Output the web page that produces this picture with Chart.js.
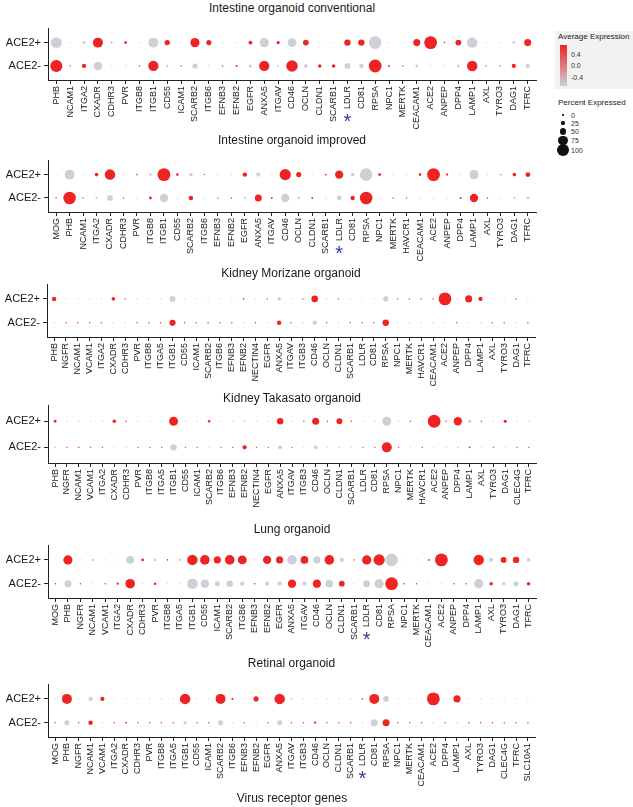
<!DOCTYPE html>
<html>
<head>
<meta charset="utf-8">
<script src="https://cdn.jsdelivr.net/npm/chart.js@4.4.1/dist/chart.umd.min.js"></script>
<style>
  body { margin: 0; background: #fff; font-family: "Liberation Sans", Arial, sans-serif; color: #1a1a1a; }
  #page { position: relative; width: 633px; height: 807px; overflow: hidden; }
  canvas { position: absolute; left: 0; }
  .ptitle { position: absolute; left: 48px; width: 488px; text-align: center; font-size: 12px; line-height: 14px; }
  .leg { position: absolute; font-size: 7px; line-height: 9px; color: #333; white-space: nowrap; }
  .legt { position: absolute; font-size: 8px; line-height: 10px; color: #1a1a1a; white-space: nowrap; }
</style>
</head>
<body>
<div id="page"></div>
<script>
// z-scored average expression of the ACE2+ group (ACE2- is the negative)
const H = 0.71, L = -0.71;
const rowLabels = ["ACE2+", "ACE2-"];

// Intestine organoid conventional
const genes1 = ["PHB","NCAM1","ITGA2","CXADR","CDHR3","PVR","ITGB8","ITGB1","CD55","ICAM1","SCARB2","ITGB6","EFNB3","EFNB2","EGFR","ANXA5","ITGAV","CD46","OCLN","CLDN1","SCARB1","LDLR","CD81","RPSA","NPC1","MERTK","CEACAM1","ACE2","ANPEP","DPP4","LAMP1","AXL","TYRO3","DAG1","TFRC"];
const pctPos1 = [85,1,25,78,10,22,1,78,42,1,72,40,1,2,30,72,25,70,45,3,10,50,50,98,10,1,55,100,12,45,82,1,3,22,55];
const pctNeg1 = [95,3,33,68,3,3,12,80,20,4,40,8,3,15,25,80,15,90,30,28,28,45,35,100,15,7,22,1,3,22,82,4,8,33,33];
const expPos1 = [L,L,L,H,H,H,L,L,H,L,H,H,L,L,H,L,H,L,H,L,L,H,H,L,L,L,H,H,H,H,L,L,L,L,H];

// Intestine organoid improved
const genes2 = ["MOG","PHB","NCAM1","ITGA2","CXADR","CDHR3","PVR","ITGB8","ITGB1","CD55","SCARB2","ITGB6","EFNB3","EFNB2","EGFR","ANXA5","ITGAV","CD46","OCLN","CLDN1","SCARB1","LDLR","CD81","RPSA","NPC1","MERTK","HAVCR1","CEACAM1","ACE2","ANPEP","DPP4","LAMP1","AXL","TYRO3","DAG1","TFRC"];
const pctPos2 = [0,78,1,28,82,2,12,22,100,20,28,10,1,4,35,33,4,88,40,5,14,65,28,98,22,1,1,20,100,18,3,72,1,10,28,38];
const pctNeg2 = [3,98,3,18,45,6,4,22,65,6,35,3,3,10,18,55,14,65,22,14,6,38,35,98,4,4,4,4,1,2,16,65,4,3,18,22];
const expPos2 = [L,L,L,H,H,L,H,L,H,H,L,H,L,L,H,L,L,H,H,L,H,H,L,L,H,L,L,H,H,H,L,L,L,H,H,H];

// Kidney Morizane organoid
const genes3 = ["PHB","NGFR","NCAM1","VCAM1","ITGA2","CXADR","CDHR3","PVR","ITGB8","ITGA5","ITGB1","CD55","ICAM1","SCARB2","ITGB6","EFNB3","EFNB2","NECTIN4","EGFR","ANXA5","ITGAV","ITGB3","CD46","OCLN","CLDN1","SCARB1","LDLR","CD81","RPSA","NPC1","MERTK","HAVCR1","CEACAM1","ACE2","ANPEP","DPP4","LAMP1","AXL","TYRO3","DAG1","TFRC"];
const pctPos3 = [35,1,3,2,2,28,4,2,2,2,45,1,1,8,1,1,12,1,10,28,1,6,52,2,10,2,2,3,40,4,6,4,4,100,3,55,33,2,2,6,2];
const pctNeg3 = [8,3,10,3,3,3,2,4,8,4,48,4,4,12,3,3,3,3,3,35,5,2,33,3,4,4,4,6,50,2,3,3,2,0,2,4,8,4,6,3,5];
const expPos3 = [H,L,L,L,L,H,H,L,L,L,L,L,L,L,L,L,H,L,H,L,L,H,H,L,H,L,L,L,L,H,H,H,H,H,L,H,H,L,L,H,L];

// Kidney Takasato organoid
const genes4 = ["PHB","NGFR","NCAM1","VCAM1","ITGA2","CXADR","CDHR3","PVR","ITGB8","ITGA5","ITGB1","CD55","ICAM1","SCARB2","ITGB6","EFNB3","EFNB2","NECTIN4","EGFR","ANXA5","ITGAV","ITGB3","CD46","OCLN","CLDN1","SCARB1","LDLR","CD81","RPSA","NPC1","MERTK","HAVCR1","ACE2","ANPEP","DPP4","LAMP1","AXL","TYRO3","DAG1","CLEC4G","TFRC"];
const pctPos4 = [22,1,3,2,2,28,5,2,2,2,70,1,2,20,1,1,14,1,1,50,3,6,55,4,45,7,1,3,70,2,6,2,100,6,65,25,6,2,25,1,3];
const pctNeg4 = [14,3,12,2,8,6,3,2,6,4,50,3,3,6,3,6,33,3,4,30,6,2,30,2,15,2,5,7,78,2,2,3,0,2,14,14,2,4,3,3,6];
const expPos4 = [H,L,L,L,L,H,H,L,L,L,H,L,L,H,L,L,L,L,L,H,L,H,H,H,H,H,L,L,L,L,H,L,H,H,H,L,H,L,H,L,L];

// Lung organoid
const genes5 = ["MOG","PHB","NGFR","NCAM1","VCAM1","ITGA2","CXADR","CDHR3","PVR","ITGB8","ITGA5","ITGB1","CD55","ICAM1","SCARB2","ITGB6","EFNB3","EFNB2","EGFR","ANXA5","ITGAV","CD46","OCLN","CLDN1","SCARB1","LDLR","CD81","RPSA","NPC1","MERTK","CEACAM1","ACE2","ANPEP","DPP4","LAMP1","AXL","TYRO3","DAG1","TFRC"];
const pctPos5 = [0,72,1,10,1,10,60,22,20,12,6,82,75,55,75,70,12,65,55,75,60,55,75,33,8,72,88,98,8,4,14,100,1,4,82,33,45,50,28];
const pctNeg5 = [3,55,3,2,3,18,75,3,20,3,1,82,65,40,50,33,12,33,33,65,33,65,60,45,3,55,72,100,12,8,4,1,3,8,72,28,28,40,28];
const expPos5 = [L,H,L,H,L,L,L,H,L,H,H,H,H,H,H,H,L,H,H,L,H,L,H,L,H,H,H,L,L,L,H,H,L,L,H,L,H,H,L];

// Retinal organoid
const genes6 = ["MOG","PHB","NGFR","NCAM1","VCAM1","ITGA2","CXADR","CDHR3","PVR","ITGB8","ITGA5","ITGB1","CD55","ICAM1","SCARB2","ITGB6","EFNB3","EFNB2","EGFR","ANXA5","ITGAV","ITGB3","CD46","OCLN","CLDN1","SCARB1","LDLR","CD81","RPSA","NPC1","MERTK","CEACAM1","ACE2","DPP4","LAMP1","AXL","TYRO3","DAG1","CLEC4G","TFRC","SLC10A1"];
const pctPos6 = [0,78,1,33,33,1,8,1,1,8,1,82,1,1,78,16,1,40,1,82,16,1,8,1,1,1,12,78,45,1,1,1,100,1,55,1,1,8,1,1,1];
const pctNeg6 = [3,40,6,35,2,5,14,3,3,8,3,26,3,3,40,2,3,3,4,40,8,3,18,3,3,6,2,55,55,5,2,2,1,3,8,5,4,8,2,6,2];
const expPos6 = [L,H,L,L,H,L,L,L,L,L,L,H,L,L,H,H,L,H,L,H,L,L,L,L,L,L,H,H,L,L,L,L,H,L,H,L,L,L,L,L,L];

const titles = ["Intestine organoid conventional", "Intestine organoid improved", "Kidney Morizane organoid",
                "Kidney Takasato organoid", "Lung organoid", "Retinal organoid"];
const geneLists = [genes1, genes2, genes3, genes4, genes5, genes6];
const pctPosLists = [pctPos1, pctPos2, pctPos3, pctPos4, pctPos5, pctPos6];
const pctNegLists = [pctNeg1, pctNeg2, pctNeg3, pctNeg4, pctNeg5, pctNeg6];
const expPosLists = [expPos1, expPos2, expPos3, expPos4, expPos5, expPos6];
const starred = [true, true, false, false, true, true];   // blue asterisk at LDLR

const expBreaks = [0.4, 0.0, -0.4];
const pctBreaks = [0, 25, 50, 75, 100];

// layout of each panel on the page (px)
const layout = [
  { titleY: 8,   top: 25,  bottom: 80,  left: 48, right: 536 },
  { titleY: 140, top: 157, bottom: 212, left: 48, right: 536 },
  { titleY: 273, top: 281, bottom: 337, left: 47, right: 535 },
  { titleY: 398, top: 402, bottom: 463, left: 48, right: 536 },
  { titleY: 529, top: 542, bottom: 598, left: 48, right: 536 },
  { titleY: 663, top: 681, bottom: 737, left: 48, right: 535 }
];

const RED = [238, 36, 36], GREY = [206, 208, 215];
const FONT = '"Liberation Sans", Arial, sans-serif';
Chart.defaults.font.family = FONT;

function dotRadius(pct) { return Math.max(0.7, pct / 100 * 6.4); }
function dotColor(v) {
  const t = Math.min(1, Math.max(0, (v - L) / (H - L)));
  const c = GREY.map((g, i) => Math.round(g + (RED[i] - g) * t));
  return `rgb(${c[0]},${c[1]},${c[2]})`;
}

const starPlugin = {
  id: "star",
  afterDraw(chart, args, opts) {
    if (!opts.gene) return;
    const xs = chart.scales.x;
    const idx = xs.ticks.findIndex(t => t.label === opts.gene);
    if (idx < 0) return;
    const ctx = chart.ctx;
    ctx.save();
    ctx.font = "9px " + FONT;
    const w = ctx.measureText(opts.gene).width;
    const x = xs.getPixelForValue(xs.ticks[idx].value);
    const y = chart.chartArea.bottom + 6 + w + 8;
    ctx.fillStyle = "#2f3f9e";
    ctx.font = "20px " + FONT;
    ctx.textAlign = "center";
    ctx.textBaseline = "alphabetic";
    ctx.fillText("*", x, y + 11);
    ctx.restore();
  }
};

const page = document.getElementById("page");

function makePanel(k) {
  const genes = geneLists[k], lay = layout[k];
  const pos = pctPosLists[k], neg = pctNegLists[k], exp = expPosLists[k];
  const padTop = 6, axisH = 56, W = 545;

  const t = document.createElement("div");
  t.className = "ptitle";
  t.style.top = (lay.titleY - 7) + "px";
  t.style.left = lay.left + "px";
  t.style.width = (lay.right - lay.left) + "px";
  t.textContent = titles[k];
  page.appendChild(t);

  const canvas = document.createElement("canvas");
  canvas.width = W;
  canvas.height = padTop + (lay.bottom - lay.top) + axisH;
  canvas.style.top = (lay.top - padTop) + "px";
  page.appendChild(canvas);

  const data = [];
  genes.forEach((g, i) => {
    data.push({ x: i, y: 0, r: dotRadius(pos[i]), e: exp[i] });
    data.push({ x: i, y: 1, r: dotRadius(neg[i]), e: -exp[i] });
  });

  new Chart(canvas, {
    type: "bubble",
    data: {
      datasets: [{
        data: data,
        backgroundColor: c => dotColor(c.raw.e),
        borderWidth: 0
      }]
    },
    options: {
      responsive: false,
      animation: false,
      events: [],
      layout: { padding: { top: padTop, right: W - lay.right, left: 0, bottom: 0 } },
      plugins: {
        legend: { display: false },
        tooltip: { enabled: false },
        star: { gene: starred[k] ? "LDLR" : null }
      },
      scales: {
        x: {
          type: "linear",
          min: -0.6,
          max: genes.length - 0.4,
          afterBuildTicks: s => { s.ticks = genes.map((g, i) => ({ value: i })); },
          afterFit: s => { s.height = axisH; },
          ticks: {
            autoSkip: false, minRotation: 90, maxRotation: 90, padding: 2,
            color: "#1a1a1a", font: { size: 9 },
            callback: v => genes[v]
          },
          grid: { drawOnChartArea: false, tickLength: 4, color: "#222", lineWidth: 1 },
          border: { color: "#222", width: 1 }
        },
        y: {
          type: "linear",
          min: -0.6,
          max: 1.6,
          reverse: true,
          afterBuildTicks: s => { s.ticks = [{ value: 0 }, { value: 1 }]; },
          afterFit: s => { s.width = lay.left; },
          ticks: { padding: 3, color: "#1a1a1a", font: { size: 11 }, callback: v => rowLabels[v] },
          grid: { drawOnChartArea: false, tickLength: 4, color: "#222", lineWidth: 1 },
          border: { color: "#222", width: 1 }
        }
      }
    },
    plugins: [starPlugin]
  });
}

for (let k = 0; k < 6; k++) makePanel(k);

// x axis title
const xt = document.createElement("div");
xt.className = "ptitle";
xt.style.top = "791px";
xt.textContent = "Virus receptor genes";
page.appendChild(xt);

// colour legend
function addDiv(cls, css, text) {
  const d = document.createElement("div");
  if (cls) d.className = cls;
  d.style.cssText = css;
  if (text !== undefined) d.textContent = text;
  page.appendChild(d);
  return d;
}
addDiv(null, "position:absolute;left:555px;top:31px;width:78px;height:58px;background:#f2f2f2;");
addDiv("legt", "left:558px;top:32px;", "Average Expression");
const barTop = 45, barH = 41;
addDiv(null, `position:absolute;left:560px;top:${barTop}px;width:7px;height:${barH}px;` +
  `background:linear-gradient(to bottom, ${dotColor(H)}, ${dotColor(L)});`);
expBreaks.forEach(v => {
  const y = barTop + (H - v) / (H - L) * barH;
  addDiv("leg", `left:571px;top:${(y - 4.5).toFixed(1)}px;`, v.toFixed(1));
});

// size legend
addDiv("legt", "left:558px;top:98px;", "Percent Expressed");
const sizeY = [115, 123, 131.5, 140.5, 150];
pctBreaks.forEach((p, i) => {
  const r = dotRadius(p);
  addDiv(null, `position:absolute;left:${563 - r}px;top:${sizeY[i] - r}px;width:${2 * r}px;height:${2 * r}px;border-radius:50%;background:#111;`);
  addDiv("leg", `left:571px;top:${sizeY[i] - 4.5}px;`, String(p));
});
</script>
</body>
</html>
